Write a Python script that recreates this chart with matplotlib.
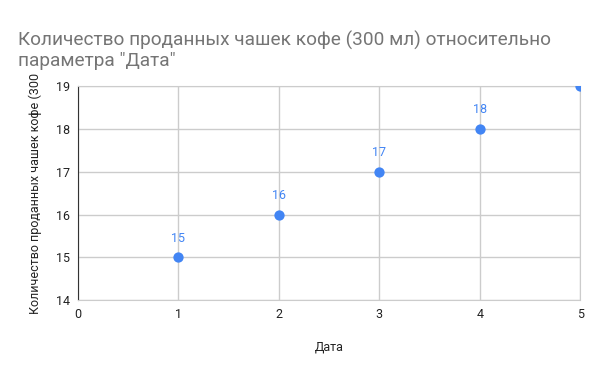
import matplotlib.pyplot as plt

plt.rcParams['font.family'] = ['Roboto', 'DejaVu Sans']

dates = [1, 2, 3, 4, 5]
cups = [15, 16, 17, 18, 19]
x_ticks = [0, 1, 2, 3, 4, 5]
y_ticks = [14, 15, 16, 17, 18, 19]

title = 'Количество проданных чашек кофе (300 мл) относительно\nпараметра "Дата"'
y_label = 'Количество проданных чашек кофе (300'
x_label = 'Дата'

blue = '#4285f4'
grid_col = '#cccccc'

fig = plt.figure(figsize=(6, 3.71), dpi=100)
ax = fig.add_axes([0.13, 0.191, 0.837, 0.577])

ax.scatter(dates, cups, s=55, color=blue, zorder=3, clip_on=True, linewidths=0)
# point labels, clipped to the plot area like the original
for x, y in zip(dates, cups):
    t = ax.annotate(str(y), (x, y), xytext=(0, 9), textcoords='offset points',
                    ha='center', va='bottom', color=blue, fontsize=9)
    t.set_clip_path(ax.patch)

ax.set_xlim(0, 5)
ax.set_ylim(14, 19)
ax.set_xticks(x_ticks)
ax.set_yticks(y_ticks)
ax.grid(True, color=grid_col, linewidth=1)
ax.set_axisbelow(True)
for side in ['top', 'right', 'bottom']:
    ax.spines[side].set_color(grid_col)
ax.spines['left'].set_color('#333333')
ax.tick_params(length=0, labelsize=9, colors='#222222', pad=6)

ax.set_xlabel(x_label, fontsize=9, color='#222222', labelpad=14)
ax.set_ylabel(y_label, fontsize=9, color='#222222', labelpad=10)

fig.text(0.03, 0.81, title, fontsize=13.7, color='#757575', ha='left', va='bottom',
         linespacing=1.2)

fig.savefig('out.png', dpi=100)
